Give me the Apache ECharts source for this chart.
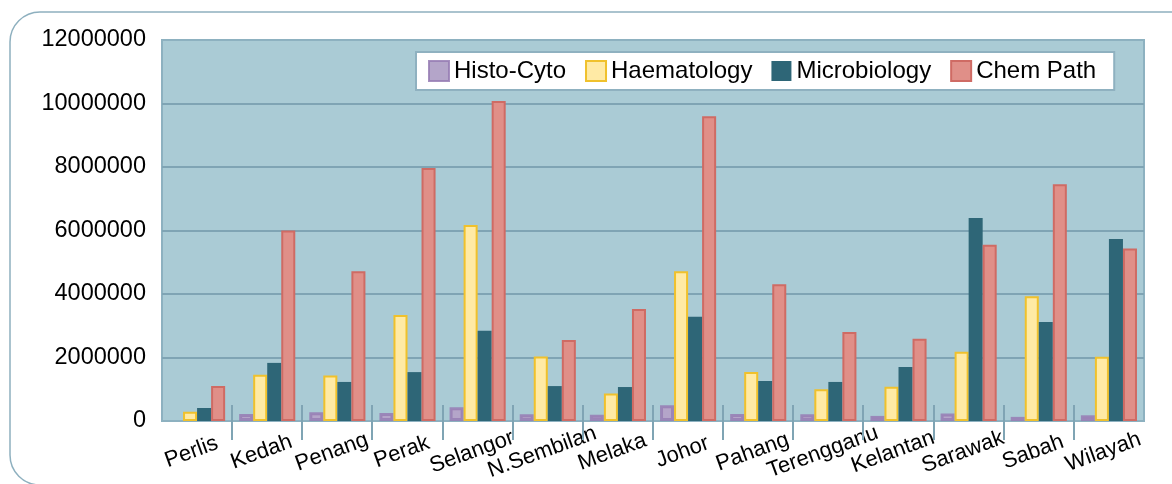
<!DOCTYPE html>
<html>
<head>
<meta charset="utf-8">
<script src="https://cdn.jsdelivr.net/npm/echarts@6/dist/echarts.min.js"></script>
<style>
  html, body { margin: 0; padding: 0; background: #ffffff; }
  #chart { width: 1172px; height: 484px; }
</style>
</head>
<body>
<div id="chart"></div>
<script>
// States shown along the category axis
const states = ['Perlis', 'Kedah', 'Penang', 'Perak', 'Selangor', 'N.Sembilan', 'Melaka',
  'Johor', 'Pahang', 'Terengganu', 'Kelantan', 'Sarawak', 'Sabah', 'Wilayah'];

// Test counts per discipline
const histoCyto    = [0, 220000, 275000, 250000, 430000, 210000, 200000, 500000, 220000, 210000, 160000, 240000, 130000, 180000];
const haematology  = [290000, 1460000, 1430000, 3340000, 6170000, 2030000, 870000, 4720000, 1540000, 1000000, 1080000, 2180000, 3930000, 2020000];
const microbiology = [410000, 1830000, 1230000, 1540000, 2840000, 1100000, 1070000, 3280000, 1260000, 1230000, 1700000, 6390000, 3120000, 5730000];
const chemPath     = [1100000, 6000000, 4720000, 7970000, 10080000, 2550000, 3530000, 9600000, 4310000, 2800000, 2590000, 5550000, 7460000, 5430000];

// Value axis range
const yMin = 0;
const yMax = 12000000;
const yStep = 2000000;

const seriesNames = ['Histo-Cyto', 'Haematology', 'Microbiology', 'Chem Path'];

const FONT = 'Liberation Sans, Arial, sans-serif';
const tickColor = '#7fa4b4';

const chart = echarts.init(document.getElementById('chart'), null, { renderer: 'canvas' });

// Boundary positions between neighbouring categories (cross ticks)
const boundaries = states.slice(1).map((s, i) => [i + 1, 0]);

// zero values get no outline so nothing is drawn for them
function withZeroHidden(values) {
  return values.map(v => v === 0 ? { value: v, itemStyle: { borderWidth: 0, opacity: 0 } } : v);
}

chart.setOption({
  animation: false,
  backgroundColor: '#ffffff',
  textStyle: { fontFamily: FONT },
  graphic: [{
    type: 'rect',
    z: -10,
    shape: { x: 10, y: 12, width: 1220, height: 473, r: 30 },
    style: { fill: 'none', stroke: '#8eb0bf', lineWidth: 1.5 }
  }],
  grid: {
    left: 162, top: 40, right: 28, bottom: 63,
    show: true,
    backgroundColor: '#aacbd5',
    borderColor: '#8db1c0',
    borderWidth: 2
  },
  legend: {
    data: seriesNames,
    icon: 'rect',
    left: 416, top: 52,
    backgroundColor: '#ffffff',
    borderColor: '#8fb1c0',
    borderWidth: 2,
    borderRadius: 0,
    padding: [7, 18, 7, 12],
    itemWidth: 20, itemHeight: 20,
    itemGap: 19,
    textStyle: { fontSize: 24, color: '#000000', fontFamily: FONT }
  },
  xAxis: {
    type: 'category',
    data: states,
    axisLine: { show: false },
    axisTick: { show: false },
    axisLabel: {
      interval: 0,
      rotate: 20,
      align: 'center',
      verticalAlign: 'middle',
      margin: 29,
      padding: [0, 12, 0, 0],
      fontSize: 22,
      color: '#000000',
      fontFamily: FONT
    }
  },
  yAxis: {
    type: 'value',
    min: yMin, max: yMax, interval: yStep,
    axisLine: { show: false },
    axisTick: { show: false },
    axisLabel: { fontSize: 23.5, color: '#000000', margin: 16, fontFamily: FONT, formatter: v => String(v) },
    splitLine: { show: true, showMinLine: false, showMaxLine: false, lineStyle: { color: tickColor, width: 2 } }
  },
  series: [
    {
      name: 'Histo-Cyto', type: 'bar', data: withZeroHidden(histoCyto),
      barGap: 0, barCategoryGap: '20%',
      itemStyle: { color: '#b4a5c9', borderColor: 'rgba(150,125,180,0.85)', borderWidth: 3 }
    },
    {
      name: 'Haematology', type: 'bar', data: haematology,
      itemStyle: { color: '#ffeaa5', borderColor: '#f0c12c', borderWidth: 2 }
    },
    {
      name: 'Microbiology', type: 'bar', data: microbiology,
      itemStyle: { color: '#2e6677' }
    },
    {
      name: 'Chem Path', type: 'bar', data: chemPath,
      itemStyle: { color: '#e08f88', borderColor: '#cf6b64', borderWidth: 2 }
    },
    {
      // cross tick marks between categories
      name: 'boundaryTicks', type: 'custom', silent: true, z: 1,
      encode: { x: 0, y: 1 },
      data: boundaries,
      renderItem: function (params, api) {
        const band = api.size([1, 0])[0];
        const p = api.coord([api.value(0), 0]);
        const x = Math.round(p[0] - band / 2);
        return {
          type: 'line',
          shape: { x1: x, y1: p[1] - 16, x2: x, y2: p[1] + 19 },
          style: { stroke: tickColor, lineWidth: 2 }
        };
      }
    }
  ]
});
</script>
</body>
</html>
